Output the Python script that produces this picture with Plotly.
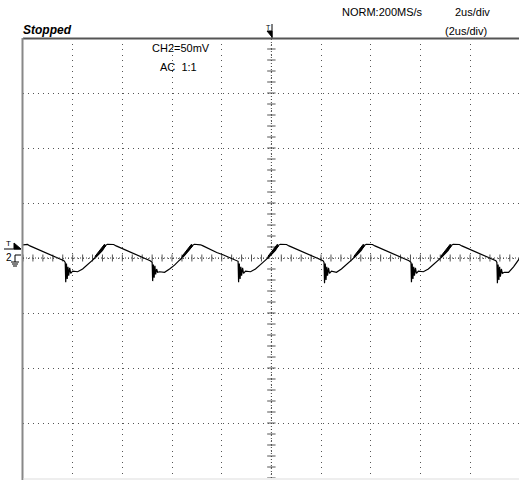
import plotly.graph_objects as go
import numpy as np

# ---- Data (time in us, voltage in mV) ----
trace_t = [
    -10.00, -9.82, -9.72, -9.47, -9.17, -8.92, -8.67, -8.47, -8.35,
    -8.30, -8.28, -8.25, -8.22, -8.19, -8.16, -8.12, -8.08, -8.00, -7.80, -7.60, -7.40, -7.20, -7.05, -6.80, -6.68, -6.60, -6.35, -6.25, -6.00, -5.70, -5.45, -5.20, -5.00, -4.88,
    -4.80, -4.78, -4.75, -4.72, -4.69, -4.66, -4.62, -4.58, -4.50, -4.30, -4.10, -3.90, -3.70, -3.55, -3.30, -3.18, -3.10, -2.85, -2.75, -2.50, -2.20, -1.95, -1.70, -1.50, -1.38,
    -1.34, -1.32, -1.29, -1.26, -1.23, -1.20, -1.16, -1.12, -1.04, -0.84, -0.64, -0.44, -0.24, -0.09, 0.16, 0.28, 0.36, 0.61, 0.71, 0.96, 1.26, 1.51, 1.76, 1.96, 2.08,
    2.12, 2.14, 2.17, 2.20, 2.23, 2.26, 2.30, 2.34, 2.42, 2.62, 2.82, 3.02, 3.22, 3.37, 3.62, 3.74, 3.82, 4.07, 4.17, 4.42, 4.72, 4.97, 5.22, 5.42, 5.54,
    5.62, 5.64, 5.67, 5.70, 5.73, 5.76, 5.80, 5.84, 5.92, 6.12, 6.32, 6.52, 6.72, 6.87, 7.12, 7.24, 7.32, 7.57, 7.67, 7.92, 8.22, 8.47, 8.72, 8.92, 9.04,
    9.08, 9.10, 9.13, 9.16, 9.19, 9.22, 9.26, 9.30, 9.38, 9.55, 9.75, 9.97,
]
trace_v = [
    12.0, 12.3, 11.0, 8.5, 5.5, 3.5, 1.0, -1.0, -2.5,
    -4, -22, -5, -19, -8, -16, -9, -14, -12, -12.5, -10, -6, -2, 1, 7, 11.5, 12.5, 12.3, 11.0, 8.5, 5.5, 3.5, 1.0, -1.0, -2.5,
    -4, -21, -6, -18, -7, -15, -10, -13, -12.5, -13, -10, -6.5, -2, 1, 7.5, 11.5, 12.5, 12.0, 11.0, 8.0, 5.0, 3.0, 0.5, -1.5, -2.5,
    -3, -22, -5, -19, -8, -16, -9, -14, -12, -12.5, -10, -6, -2, 1, 7, 11.5, 12.5, 12.3, 11.0, 8.5, 5.5, 3.0, 0.5, -1.0, -2.5,
    -4, -23, -5, -20, -8, -16, -9, -14, -12, -13, -10, -6, -2, 1, 7, 11.5, 12.5, 12.3, 11.0, 8.5, 5.5, 3.0, 0.5, -1.0, -2.5,
    -4, -22, -5, -19, -8, -16, -9, -14, -12, -12.5, -10, -6, -2, 1, 7, 11.5, 12.5, 12.3, 11.0, 8.5, 5.5, 3.0, 0.5, -1.0, -2.5,
    -4, -23, -6, -20, -8, -17, -10, -14, -13, -13, -8, -1,
]
# noisy (thick) bands on the rising edge before each peak
band_t = [-7.15, -6.68, -6.72, -7.10, None,
          -3.65, -3.18, -3.22, -3.60, None,
          -0.19, 0.28, 0.24, -0.14, None,
          3.27, 3.74, 3.70, 3.32, None,
          6.77, 7.24, 7.20, 6.82]
band_v = [-1, 10.5, 12.5, 1.5, None,
          -1, 10.5, 12.5, 1.5, None,
          -1, 10.5, 12.5, 1.5, None,
          -1, 10.5, 12.5, 1.5, None,
          -1, 10.5, 12.5, 1.5]

X_RANGE = [-10, 9.97]
Y_RANGE = [-200, 200]

W, H = 519, 480
L, R, T, B = 23, 0, 38, 2
PW, PH = W - L - R, H - T - B

def px(x):
    return (x - L) / PW

def py(y):
    return (H - B - y) / PH

fig = go.Figure()

# center-axis tick marks (graticule)
tick_x = [v for v in np.arange(-10, 10.01, 0.4) if abs(v) > 1e-6]
tick_y = [v for v in np.arange(-200, 200.1, 10) if abs(v) > 1e-6]
fig.add_trace(go.Scatter(x=tick_x, y=[0] * len(tick_x), mode="markers",
                         marker=dict(symbol="line-ns", size=5, line=dict(width=1, color="#555")),
                         hoverinfo="skip", showlegend=False))
fig.add_trace(go.Scatter(x=[0] * len(tick_y), y=tick_y, mode="markers",
                         marker=dict(symbol="line-ew", size=6, line=dict(width=1, color="#555")),
                         hoverinfo="skip", showlegend=False))

fig.add_trace(go.Scatter(x=band_t, y=band_v, mode="lines", fill="toself",
                         fillcolor="black", line=dict(color="black", width=1),
                         hoverinfo="skip", showlegend=False))
fig.add_trace(go.Scatter(x=trace_t, y=trace_v, mode="lines",
                         line=dict(color="black", width=1.2),
                         showlegend=False))

FONT = "Liberation Sans, Arial, sans-serif"

fig.update_layout(
    width=W, height=H,
    margin=dict(l=L, r=R, t=T, b=B, pad=0),
    paper_bgcolor="white", plot_bgcolor="white",
    font=dict(family=FONT, size=11, color="black"),
    xaxis=dict(range=X_RANGE, tick0=0, dtick=2, showticklabels=False, ticks="",
               showgrid=True, gridcolor="#555", gridwidth=1, griddash="1px,4.5px",
               zeroline=False, showline=False, fixedrange=True),
    yaxis=dict(range=Y_RANGE, tick0=0, dtick=50, showticklabels=False, ticks="",
               showgrid=True, gridcolor="#555", gridwidth=1, griddash="1px,4px",
               zeroline=False, showline=False, fixedrange=True),
)

shapes = [
    # top border
    dict(type="line", xref="paper", yref="paper", x0=px(23), x1=1, y0=py(38.5), y1=py(38.5),
         line=dict(color="#555", width=2)),
    # left border
    dict(type="line", xref="paper", yref="paper", x0=px(22.5), x1=px(22.5), y0=py(38), y1=py(480),
         line=dict(color="#888", width=2)),
    # bottom border
    dict(type="line", xref="paper", yref="paper", x0=px(23), x1=1, y0=py(479), y1=py(479),
         line=dict(color="#ddd", width=1)),
    # center lines (denser dots)
    dict(type="line", xref="x", yref="paper", x0=0, x1=0, y0=0, y1=1,
         line=dict(color="#444", width=1, dash="1px,2px")),
    dict(type="line", xref="paper", yref="y", x0=0, x1=1, y0=0, y1=0,
         line=dict(color="#444", width=1, dash="1px,2px")),
    # top trigger marker
    dict(type="line", xref="paper", yref="paper", x0=px(272), x1=px(272), y0=py(24), y1=py(38),
         line=dict(color="black", width=1)),
    dict(type="path", xref="paper", yref="paper",
         path=f"M {px(267)},{py(31)} L {px(272)},{py(31)} L {px(272)},{py(37)} Z",
         fillcolor="black", line=dict(color="black", width=1)),
    # left trigger level marker
    dict(type="line", xref="paper", yref="paper", x0=px(4), x1=px(21), y0=py(249), y1=py(249),
         line=dict(color="black", width=1)),
    dict(type="path", xref="paper", yref="paper",
         path=f"M {px(14)},{py(243)} L {px(14)},{py(249)} L {px(21)},{py(249)} Z",
         fillcolor="black", line=dict(color="black", width=1)),
    # ground symbol for channel 2
    dict(type="line", xref="paper", yref="paper", x0=px(15), x1=px(21), y0=py(255), y1=py(255),
         line=dict(color="black", width=1)),
    dict(type="line", xref="paper", yref="paper", x0=px(15), x1=px(15), y0=py(255), y1=py(262),
         line=dict(color="black", width=1)),
    dict(type="line", xref="paper", yref="paper", x0=px(11), x1=px(19), y0=py(262), y1=py(262),
         line=dict(color="black", width=1)),
    dict(type="line", xref="paper", yref="paper", x0=px(12), x1=px(18), y0=py(264), y1=py(264),
         line=dict(color="black", width=1)),
    dict(type="line", xref="paper", yref="paper", x0=px(13), x1=px(17), y0=py(266), y1=py(266),
         line=dict(color="black", width=1)),
]
fig.update_layout(shapes=shapes)

def label(text, x, y, anchor="left", size=11, **kw):
    fig.add_annotation(text=text, xref="paper", yref="paper", x=px(x), y=py(y),
                       xanchor=anchor, yanchor="middle", showarrow=False,
                       font=dict(size=size, **kw))

label("<b><i>Stopped</i></b>", 21, 30, size=12)
label("CH2=50mV", 150, 48, size=11)
label("AC  1:1", 158, 67, size=11)
label("NORM:200MS/s", 340, 12, size=11)
label("2us/div", 453, 12, size=11)
label("(2us/div)", 443, 31, size=11)
label("T", 268, 27, size=7, anchor="center")
label("T", 8, 244, size=8, anchor="center")
label("2", 9, 257, size=10, anchor="center")

fig.write_html("out.html")
